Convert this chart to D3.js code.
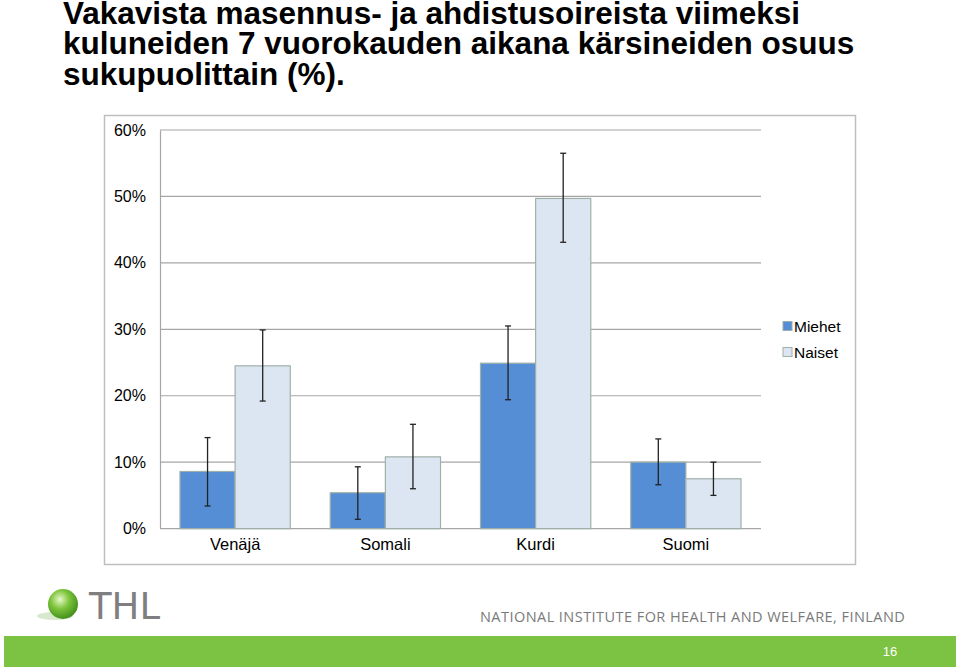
<!DOCTYPE html>
<html><head><meta charset="utf-8">
<script src="https://cdn.jsdelivr.net/npm/d3@7"></script>
<style>body{margin:0;background:#fff;} svg{display:block;}</style>
</head><body>
<svg id="c" width="960" height="668"></svg>
<script>
const titleLines = ["Vakavista masennus- ja ahdistusoireista viimeksi",
  "kuluneiden 7 vuorokauden aikana kärsineiden osuus",
  "sukupuolittain (%)."];
const categories = ["Venäjä", "Somali", "Kurdi", "Suomi"];
const seriesNames = ["Miehet", "Naiset"];
const miehet = [8.6, 5.4, 24.9, 10.0];
const naiset = [24.5, 10.8, 49.7, 7.5];
const miehetLow = [3.4, 1.4, 19.4, 6.6];
const miehetHigh = [13.7, 9.3, 30.5, 13.5];
const naisetLow = [19.2, 6.0, 43.1, 5.0];
const naisetHigh = [29.9, 15.7, 56.5, 10.0];
const yTicks = [0, 10, 20, 30, 40, 50, 60];
const colors = {Miehet: "#558ed5", Naiset: "#dce6f2"};

const svg = d3.select("#c");
const font = "'Liberation Sans', Arial, sans-serif";

// title
svg.append("g").selectAll("text").data(titleLines).join("text")
  .attr("x", 63).attr("y", (d, i) => 23.5 + i * 30.5)
  .attr("font-family", font).attr("font-weight", "bold").attr("font-size", 31.5)
  .attr("fill", "#000").text(d => d);

// chart frame
svg.append("rect").attr("x", 104.5).attr("y", 115.5).attr("width", 751).attr("height", 449)
  .attr("fill", "#fff").attr("stroke", "#bfbfbf").attr("stroke-width", 1.5);

const L = 160, R = 761, T = 130, B = 528.6;
const y = d3.scaleLinear().domain([0, 60]).range([B, T]);
const x0 = d3.scaleBand().domain(categories).range([L, R]).paddingInner(0.266).paddingOuter(0.133);
const x1 = d3.scaleBand().domain(seriesNames).range([0, x0.bandwidth()]);

// gridlines
svg.append("g").selectAll("line").data(yTicks).join("line")
  .attr("x1", L).attr("x2", R).attr("y1", d => y(d)).attr("y2", d => y(d))
  .attr("stroke", "#a6a6a6").attr("stroke-width", 1.2);

// y axis
const yAxis = svg.append("g").attr("transform", `translate(${L},0)`)
  .call(d3.axisLeft(y).tickValues(yTicks).tickSize(0).tickPadding(14).tickFormat(d => d + "%"));
yAxis.select(".domain").attr("stroke", "#a6a6a6").attr("stroke-width", 1.2);
yAxis.selectAll("text").attr("font-family", font).attr("font-size", 16).attr("fill", "#000");

// x axis labels
const xAxis = svg.append("g").attr("transform", `translate(0,${B})`)
  .call(d3.axisBottom(x0).tickSize(0).tickPadding(10));
xAxis.select(".domain").remove();
xAxis.selectAll("text").attr("font-family", font).attr("font-size", 16.5).attr("fill", "#000");

const data = categories.map((c, i) => ({
  cat: c,
  vals: [
    {s: "Miehet", v: miehet[i], lo: miehetLow[i], hi: miehetHigh[i]},
    {s: "Naiset", v: naiset[i], lo: naisetLow[i], hi: naisetHigh[i]}
  ]
}));

const groups = svg.append("g").selectAll("g").data(data).join("g")
  .attr("transform", d => `translate(${x0(d.cat)},0)`);

groups.selectAll("rect").data(d => d.vals).join("rect")
  .attr("x", d => x1(d.s)).attr("width", x1.bandwidth())
  .attr("y", d => y(d.v)).attr("height", d => B - y(d.v))
  .attr("fill", d => colors[d.s]).attr("stroke", "#9fb0a8").attr("stroke-width", 1.2);

const eb = groups.selectAll("g.eb").data(d => d.vals).join("g").attr("class", "eb");
eb.append("line")
  .attr("x1", d => x1(d.s) + x1.bandwidth() / 2).attr("x2", d => x1(d.s) + x1.bandwidth() / 2)
  .attr("y1", d => y(d.hi)).attr("y2", d => y(d.lo))
  .attr("stroke", "#222").attr("stroke-width", 1.3);
["hi", "lo"].forEach(k => {
  eb.append("line")
    .attr("x1", d => x1(d.s) + x1.bandwidth() / 2 - 3).attr("x2", d => x1(d.s) + x1.bandwidth() / 2 + 3)
    .attr("y1", d => y(d[k])).attr("y2", d => y(d[k]))
    .attr("stroke", "#222").attr("stroke-width", 1.3);
});

// legend
const lg = svg.append("g").selectAll("g").data(seriesNames).join("g")
  .attr("transform", (d, i) => `translate(783,${326 + i * 26})`);
lg.append("rect").attr("x", 0).attr("y", -4.5).attr("width", 9).attr("height", 9)
  .attr("fill", d => colors[d]).attr("stroke", "#9fb0a8").attr("stroke-width", 1);
lg.append("text").attr("x", 11).attr("y", 5.5).attr("font-family", font).attr("font-size", 15.5)
  .attr("fill", "#000").text(d => d);

// footer: logo
const defs = svg.append("defs");
const grad = defs.append("radialGradient").attr("id", "ball").attr("cx", "0.4").attr("cy", "0.35").attr("r", "0.7");
grad.append("stop").attr("offset", "0").attr("stop-color", "#e8f8c8");
grad.append("stop").attr("offset", "0.45").attr("stop-color", "#7cc43a");
grad.append("stop").attr("offset", "1").attr("stop-color", "#3c8a1a");
svg.append("ellipse").attr("cx", 55).attr("cy", 616).attr("rx", 18).attr("ry", 4).attr("fill", "#d8e8cc");
svg.append("circle").attr("cx", 63).attr("cy", 604).attr("r", 15).attr("fill", "url(#ball)");
svg.append("text").attr("x", 89).attr("y", 619).attr("font-family", "'DejaVu Sans', sans-serif")
  .attr("font-size", 37).attr("fill", "#7f7f7f").text("THL");

svg.append("text").attr("x", 480).attr("y", 622).attr("font-family", "'Open Sans', sans-serif")
  .attr("font-size", 14.5).attr("fill", "#7a7a7a").attr("letter-spacing", 0.45)
  .text("NATIONAL INSTITUTE FOR HEALTH AND WELFARE, FINLAND");

svg.append("rect").attr("x", 4).attr("y", 636).attr("width", 952).attr("height", 31).attr("fill", "#7cc243");
svg.append("text").attr("x", 890).attr("y", 656).attr("text-anchor", "middle").attr("font-family", font)
  .attr("font-size", 13).attr("fill", "#fff").text("16");
</script>
</body></html>
